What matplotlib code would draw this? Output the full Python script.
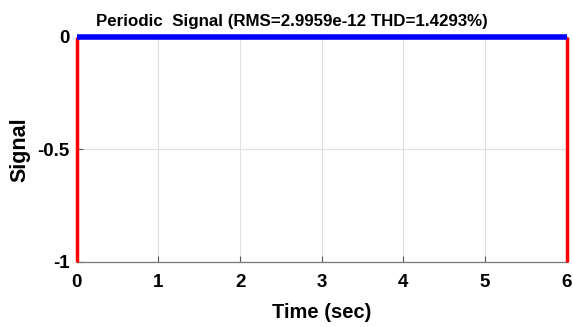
import matplotlib
matplotlib.use("Agg")
import matplotlib.pyplot as plt

# signal samples (flat, essentially zero)
time = [0, 1, 2, 3, 4, 5, 6]
signal = [0, 0, 0, 0, 0, 0, 0]
# window edges drawn in red
edge_times = [0, 6]
edge_low = -1
edge_high = 0

x_ticks = [0, 1, 2, 3, 4, 5, 6]
y_ticks = [-1, -0.5, 0]
y_tick_labels = ["-1", "-0.5", "0"]
title = "Periodic  Signal (RMS=2.9959e-12 THD=1.4293%)"

plt.rcParams["font.family"] = ["Liberation Sans", "DejaVu Sans"]
plt.rcParams["font.weight"] = "bold"

fig = plt.figure(figsize=(5.73, 3.27), dpi=100)
ax = fig.add_axes([0.134, 0.199, 0.855, 0.688])

for t in edge_times:
    ax.plot([t, t], [edge_low, edge_high], color="#ff0000", lw=2.5,
            solid_capstyle="butt", zorder=3, clip_on=False)
ax.plot(time, signal, color="#0000ff", lw=4, solid_capstyle="butt",
        zorder=4, clip_on=False)

ax.set_xlim(0, 6)
ax.set_ylim(-1, 0)
ax.set_xticks(x_ticks)
ax.set_yticks(y_ticks)
ax.set_yticklabels(y_tick_labels)
ax.grid(True, color="#e0e0e0", lw=0.8)
ax.set_axisbelow(True)
ax.tick_params(direction="in", length=4, width=0.8, color="#555555",
               labelsize=13.5)
ax.tick_params(axis="x", pad=9)
ax.tick_params(axis="y", pad=5)
for s in ax.spines.values():
    s.set_color("#777777")
    s.set_linewidth(0.9)

ax.set_title(title, fontsize=12.2, fontweight="bold", x=0.44, pad=8)
ax.set_xlabel("Time (sec)", fontsize=14.5, fontweight="bold", labelpad=8)
ax.set_ylabel("Signal", fontsize=15.5, fontweight="bold", labelpad=5)

fig.savefig("out.png", dpi=100)
